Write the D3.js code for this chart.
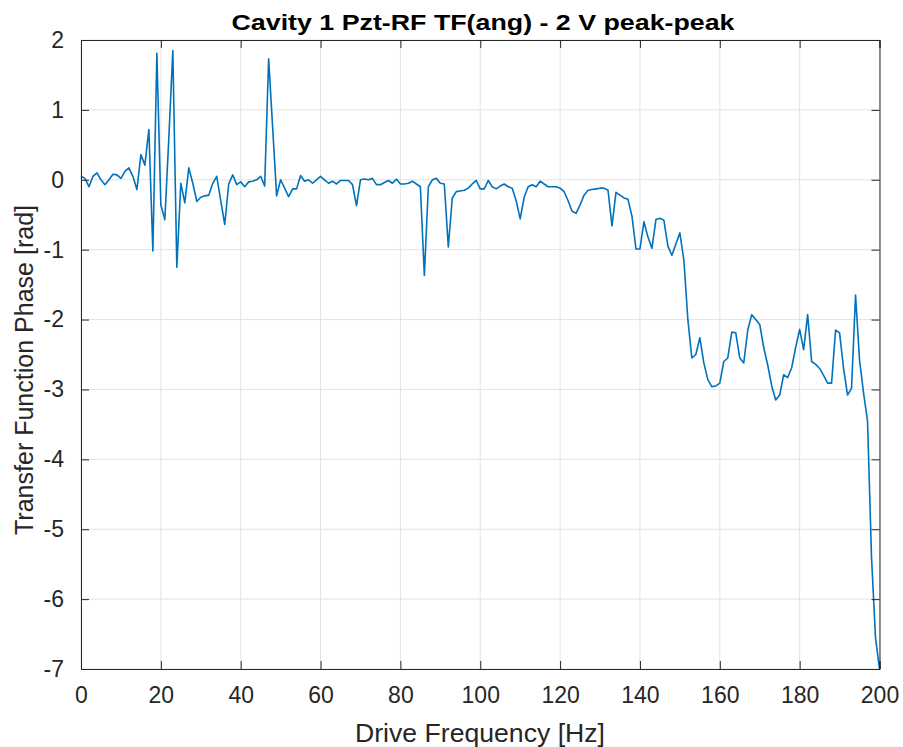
<!DOCTYPE html>
<html><head><meta charset="utf-8">
<script src="https://cdn.jsdelivr.net/npm/d3@7/dist/d3.min.js"></script>
<style>html,body{margin:0;padding:0;background:#fff;}svg{display:block;}</style>
</head><body>
<script>
const titleText = "Cavity 1 Pzt-RF TF(ang) - 2 V peak-peak";
const xLabel = "Drive Frequency [Hz]";
const yLabel = "Transfer Function Phase [rad]";
const xTicks = [0,20,40,60,80,100,120,140,160,180,200];
const yTicks = [2,1,0,-1,-2,-3,-4,-5,-6,-7];
const freq = d3.range(0, 201, 1);
const phase = [
 0.05,0.02,-0.1,0.05,0.1,0.0,-0.07,0.0,0.08,0.07,
 0.02,0.12,0.17,0.05,-0.14,0.36,0.21,0.72,-1.02,1.81,
 -0.36,-0.57,0.6,1.85,-1.25,-0.05,-0.33,0.17,-0.05,-0.31,
 -0.25,-0.23,-0.22,-0.05,0.05,-0.3,-0.64,-0.06,0.07,-0.07,
 -0.03,-0.1,-0.03,-0.02,0.0,0.05,-0.09,1.73,0.75,-0.23,
 0.0,-0.12,-0.24,-0.13,-0.13,0.06,-0.02,0.0,-0.05,0.0,
 0.05,0.0,-0.05,-0.02,-0.06,-0.01,-0.01,-0.01,-0.07,-0.37,
 0.0,0.01,0.0,0.02,-0.07,-0.07,-0.04,-0.01,-0.05,0.01,
 -0.06,-0.06,-0.05,-0.02,-0.06,-0.1,-1.37,-0.1,0.0,0.02,
 -0.05,-0.06,-0.96,-0.26,-0.17,-0.16,-0.15,-0.12,-0.06,-0.01,
 -0.13,-0.13,-0.01,-0.1,-0.13,-0.09,-0.06,-0.1,-0.12,-0.3,
 -0.56,-0.25,-0.1,-0.07,-0.1,-0.02,-0.06,-0.1,-0.1,-0.1,
 -0.12,-0.17,-0.3,-0.45,-0.48,-0.36,-0.22,-0.15,-0.14,-0.13,
 -0.12,-0.12,-0.15,-0.66,-0.18,-0.22,-0.26,-0.28,-0.52,-0.99,
 -0.99,-0.6,-0.82,-0.98,-0.57,-0.55,-0.58,-0.95,-1.08,-0.92,
 -0.76,-1.15,-2.0,-2.55,-2.5,-2.26,-2.62,-2.86,-2.96,-2.95,
 -2.91,-2.6,-2.55,-2.18,-2.19,-2.55,-2.62,-2.15,-1.93,-2.0,
 -2.07,-2.4,-2.65,-2.95,-3.15,-3.08,-2.79,-2.83,-2.69,-2.4,
 -2.14,-2.43,-1.93,-2.6,-2.64,-2.7,-2.8,-2.91,-2.91,-2.15,
 -2.19,-2.7,-3.08,-2.98,-1.65,-2.58,-3.05,-3.45,-5.4,-6.55,
 -7.0
];

const W = 903, H = 747;
const m = {left: 81, right: 903-879.5, top: 40, bottom: 747-669};
const svg = d3.select("body").append("svg").attr("width", W).attr("height", H);
const x = d3.scaleLinear().domain([0,200]).range([m.left, W-m.right]);
const y = d3.scaleLinear().domain([-7,2]).range([H-m.bottom, m.top]);
const axisColor = "#262626";
const font = "'Liberation Sans', Arial, sans-serif";

// grid
const g = svg.append("g");
g.selectAll(".gx").data(xTicks).join("line")
  .attr("x1", d=>x(d)).attr("x2", d=>x(d)).attr("y1", y(2)).attr("y2", y(-7))
  .attr("stroke", "#e3e3e3").attr("stroke-width", 1);
g.selectAll(".gy").data(yTicks).join("line")
  .attr("x1", x(0)).attr("x2", x(200)).attr("y1", d=>y(d)).attr("y2", d=>y(d))
  .attr("stroke", "#e3e3e3").attr("stroke-width", 1);

// line
const line = d3.line().x((d,i)=>x(freq[i])).y(d=>y(d));
svg.append("path").datum(phase).attr("d", line)
  .attr("fill","none").attr("stroke","#0072BD").attr("stroke-width",1.6)
  .attr("stroke-linejoin","round");

// axes (ticks inward, box)
const tl = 8;
const fmt = d => String(d);
const axB = d3.axisBottom(x).tickValues(xTicks).tickSize(-tl).tickPadding(tl+10).tickFormat(fmt);
const axT = d3.axisTop(x).tickValues(xTicks).tickSize(-tl).tickFormat("");
const axL = d3.axisLeft(y).tickValues(yTicks).tickSize(-tl).tickPadding(tl+9).tickFormat(fmt);
const axR = d3.axisRight(y).tickValues(yTicks).tickSize(-tl).tickFormat("");
function style(sel){
  sel.selectAll("path").attr("stroke", axisColor).attr("stroke-width",1);
  sel.selectAll("line").attr("stroke", axisColor).attr("stroke-width",1);
  sel.selectAll("text").attr("fill", axisColor).attr("font-family", font).attr("font-size", 23);
}
svg.append("g").attr("transform",`translate(0,${y(-7)})`).call(axB).call(style);
svg.append("g").attr("transform",`translate(0,${y(2)})`).call(axT).call(style);
svg.append("g").attr("transform",`translate(${x(0)},0)`).call(axL).call(style);
svg.append("g").attr("transform",`translate(${x(200)},0)`).call(axR).call(style);

// title
svg.append("text").attr("x", 483).attr("y", 30).attr("text-anchor","middle")
  .attr("font-family", font).attr("font-weight","bold").attr("font-size", 22)
  .attr("fill","#000").attr("textLength", 503).attr("lengthAdjust","spacingAndGlyphs")
  .text(titleText);
// x label
svg.append("text").attr("x", 480).attr("y", 742).attr("text-anchor","middle")
  .attr("font-family", font).attr("font-size", 25).attr("fill", axisColor)
  .attr("textLength", 250).attr("lengthAdjust","spacingAndGlyphs")
  .text(xLabel);
// y label
svg.append("text").attr("transform", "translate(33,370) rotate(-90)").attr("text-anchor","middle")
  .attr("font-family", font).attr("font-size", 25).attr("fill", axisColor)
  .attr("textLength", 330).attr("lengthAdjust","spacingAndGlyphs")
  .text(yLabel);
</script>
</body></html>
